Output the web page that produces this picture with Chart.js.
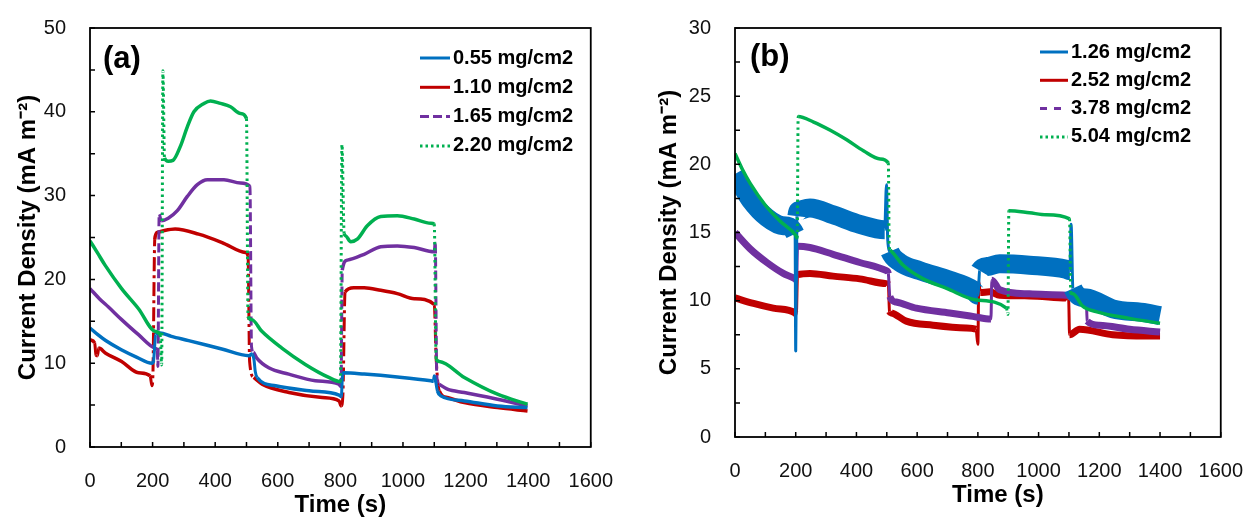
<!DOCTYPE html>
<html>
<head>
<meta charset="utf-8">
<script src="https://cdn.jsdelivr.net/npm/chart.js@4.4.1/dist/chart.umd.min.js"></script>
<style>
  body { margin: 0; background: #fff; overflow: hidden; }
  #wrap { position: relative; width: 1246px; height: 520px; overflow: hidden; }
  #chartA { position: absolute; left: 0; top: 0; }
  #chartB { position: absolute; left: 620px; top: 0; }
</style>
</head>
<body>
<div id="wrap">
  <canvas id="chartA" width="627" height="520"></canvas>
  <canvas id="chartB" width="637" height="520"></canvas>
</div>
<script>
// Panel (a): time (s) vs current density, four loadings
const labelsA = ['0.55 mg/cm2', '1.10 mg/cm2', '1.65 mg/cm2', '2.20 mg/cm2'];
const a055 = [[0,14.2],[25,13.4],[50,12.7],[100,11.6],[150,10.7],[198,10.0],[203,10.3],[210,13.4],[224,13.6],[260,13.2],[315,12.7],[421,11.7],[508,10.9],[518,11.1],[524,10.4],[528,9.0],[534,8.3],[593,7.3],[700,6.7],[796,6.2],[803,6.0],[807,8.6],[812,8.85],[876,8.7],[982,8.35],[1089,7.9],[1097,7.85],[1100,8.5],[1110,6.7],[1121,6.1],[1196,5.5],[1302,4.9],[1398,4.7]];
const a110 = [[0,12.8],[15,12.4],[19,11.0],[24,10.9],[28,11.8],[50,11.2],[101,10.2],[155,8.85],[192,8.5],[198,7.3],[201,8.6],[207,24.8],[215,25.6],[235,25.8],[272,26.0],[347,25.4],[422,24.4],[497,23.2],[505,22.8],[510,10.2],[523,8.3],[550,7.5],[636,6.5],[742,5.9],[796,5.5],[803,4.9],[808,6.2],[815,18.5],[843,19.0],[876,19.0],[929,18.7],[982,18.3],[1036,17.7],[1100,17.0],[1106,10.6],[1116,6.7],[1142,5.9],[1196,5.3],[1302,4.7],[1398,4.3]];
const a165 = [[0,18.9],[30,17.7],[59,16.7],[101,15.2],[155,13.4],[208,11.8],[215,11.5],[217,9.6],[221,27.8],[228,27.0],[250,27.3],[279,28.2],[311,29.9],[343,31.3],[375,31.9],[428,31.9],[481,31.5],[511,31.1],[516,12.0],[522,11.3],[533,10.6],[571,9.45],[635,8.7],[720,7.9],[795,7.5],[802,7.2],[806,21.1],[822,22.3],[876,23.0],[929,23.9],[982,24.0],[1036,23.8],[1100,23.3],[1103,24.5],[1108,8.5],[1115,7.5],[1142,6.9],[1196,6.5],[1302,5.7],[1398,4.9]];
const a220 = [[0,24.6],[25,23.1],[48,21.7],[101,18.9],[155,16.5],[208,13.8],[224,13.4],[229,9.8],[233,44.9],[238,34.5],[250,34.1],[265,34.2],[289,35.9],[311,38.2],[332,40.0],[364,41.0],[385,41.3],[417,41.0],[449,40.6],[481,39.8],[500,39.2],[505,15.6],[517,15.2],[549,13.8],[613,11.8],[688,9.85],[763,8.3],[800,7.8],[805,36.1],[812,25.5],[817,25.2],[833,24.5],[854,24.8],[886,26.4],[929,27.5],[982,27.6],[1036,27.2],[1089,26.7],[1100,26.6],[1106,10.5],[1116,10.2],[1196,8.3],[1302,6.3],[1398,5.1]];

// Panel (b)
const labelsB = ['1.26 mg/cm2', '2.52 mg/cm2', '3.78 mg/cm2', '5.04 mg/cm2'];
const b126 = [[0,19.3],[25,18.3],[50,17.4],[105,16.1],[159,15.5],[198,14.9],[200,6.3],[204,16.2],[210,16.6],[247,16.8],[323,16.3],[411,15.6],[493,15.2],[499,18.5],[503,14.5],[510,13.6],[543,12.8],[608,12.2],[707,11.5],[783,10.8],[800,10.4],[806,12.2],[830,12.5],[872,12.7],[970,12.6],[1091,12.3],[1103,12.2],[1107,15.6],[1113,10.9],[1157,10.2],[1244,9.4],[1354,9.1],[1400,8.9]];
const b252 = [[0,10.2],[61,9.8],[126,9.45],[198,9.1],[202,9.0],[206,11.9],[247,12.0],[323,11.8],[411,11.6],[499,11.25],[505,11.2],[509,9.2],[515,9.1],[564,8.5],[652,8.2],[761,8.0],[794,7.9],[800,6.8],[803,11.4],[808,10.6],[839,10.65],[872,10.4],[970,10.35],[1091,10.2],[1099,10.1],[1102,7.5],[1135,7.9],[1244,7.5],[1354,7.4],[1400,7.4]];
const b378 = [[0,15.0],[50,13.8],[105,12.8],[159,12.0],[198,11.6],[203,11.5],[206,14.0],[247,13.9],[323,13.4],[411,12.8],[499,12.2],[505,12.0],[510,10.3],[531,9.9],[597,9.45],[707,9.1],[783,8.85],[843,8.65],[846,11.5],[872,10.8],[970,10.5],[1091,10.4],[1135,10.3],[1157,10.1],[1160,8.5],[1200,8.2],[1300,7.9],[1400,7.7]];
const b504 = [[0,20.8],[25,19.6],[50,18.6],[100,17.0],[150,15.8],[200,14.8],[205,14.6],[208,23.5],[259,23.1],[314,22.5],[368,21.8],[423,21.0],[478,20.4],[505,20.1],[508,14.0],[511,13.7],[554,12.6],[620,11.6],[697,10.9],[795,10.05],[894,9.45],[899,9.0],[902,16.6],[970,16.45],[1025,16.3],[1102,16.0],[1106,10.6],[1113,10.5],[1145,9.6],[1189,9.2],[1299,8.7],[1400,8.35]];

const FONT = '"Liberation Sans", Arial, sans-serif';
Chart.defaults.font.family = FONT;

const BLUE = '#0070C0';
const RED = '#C00000';
const PURPLE = '#7030A0';
const GREEN = '#00B050';

function isJump(ctx) {
  return Math.abs(ctx.p1.y - ctx.p0.y) > 3 * Math.abs(ctx.p1.x - ctx.p0.x);
}

function makeSeries(label, pairs, style) {
  return {
    label: label,
    data: pairs.map(([x, y]) => ({ x, y })),
    borderColor: style.color,
    borderWidth: style.width,
    borderJoinStyle: 'round',
    borderCapStyle: 'butt',
    pointRadius: 0,
    cubicInterpolationMode: 'monotone',
    order: style.order,
    legendDash: style.legendDash,
    segment: {
      borderDash: (ctx) => (isJump(ctx) ? style.jumpDash : undefined),
      borderWidth: (ctx) => (isJump(ctx) ? style.jumpWidth : undefined)
    }
  };
}

// box round the plot area and short inward tick marks
const frameTicks = {
  id: 'frameTicks',
  afterDatasetsDraw(chart) {
    const { ctx, chartArea: a, scales } = chart;
    ctx.save();
    ctx.strokeStyle = '#000';
    ctx.lineWidth = 1.5;
    ctx.beginPath();
    scales.x.ticks.forEach((t) => {
      const px = scales.x.getPixelForValue(t.value);
      ctx.moveTo(px, a.bottom);
      ctx.lineTo(px, a.bottom - 5);
    });
    scales.y.ticks.forEach((t) => {
      const py = scales.y.getPixelForValue(t.value);
      ctx.moveTo(a.left, py);
      ctx.lineTo(a.left + 5, py);
    });
    ctx.stroke();
    ctx.lineWidth = 1.8;
    ctx.strokeRect(a.left, a.top, a.right - a.left, a.bottom - a.top);
    ctx.restore();
  }
};

const panelLegend = {
  id: 'panelLegend',
  afterDraw(chart, args, opts) {
    const ctx = chart.ctx;
    ctx.save();
    ctx.fillStyle = '#000';
    ctx.textBaseline = 'middle';
    ctx.font = 'bold 31px ' + FONT;
    ctx.fillText(opts.tag, opts.tagX, opts.tagY);
    ctx.font = 'bold 20px ' + FONT;
    chart.data.datasets.forEach((ds, i) => {
      const y = opts.top + i * opts.gap;
      ctx.strokeStyle = ds.borderColor;
      ctx.lineWidth = 3;
      ctx.setLineDash(ds.legendDash);
      ctx.beginPath();
      ctx.moveTo(opts.lineX, y);
      ctx.lineTo(opts.lineX + opts.lineLen, y);
      ctx.stroke();
      ctx.setLineDash([]);
      ctx.fillText(ds.label, opts.lineX + opts.lineLen + 3, y);
    });
    ctx.restore();
  }
};

function axisOptions(cfg) {
  const tickFont = { size: 20 };
  return {
    x: {
      type: 'linear',
      min: 0,
      max: 1600,
      grid: { display: false },
      border: { display: false },
      afterFit: (s) => { s.height = cfg.xHeight; },
      ticks: {
        stepSize: 100,
        autoSkip: false,
        maxRotation: 0,
        padding: 14,
        color: '#111',
        font: tickFont,
        callback: (v) => (v % 200 === 0 ? v : '')
      },
      title: {
        display: true,
        text: cfg.xTitle,
        color: '#000',
        font: { size: 24, weight: 'bold' },
        padding: { top: 0, bottom: cfg.xTitlePad }
      }
    },
    y: {
      min: 0,
      max: cfg.yMax,
      grid: { display: false },
      border: { display: false },
      afterFit: (s) => { s.width = cfg.yWidth; },
      ticks: {
        stepSize: cfg.yMinor,
        autoSkip: false,
        padding: 16,
        color: '#111',
        font: tickFont,
        callback: (v) => (v % cfg.yMajor === 0 ? v : '')
      },
      title: {
        display: true,
        text: 'Current Density (mA m\u207B\u00B2)',
        color: '#000',
        font: { size: 24, weight: 'bold' },
        padding: { top: cfg.yTitlePad, bottom: 0 }
      }
    }
  };
}

function buildChart(canvasId, datasets, cfg, legendOpts) {
  return new Chart(document.getElementById(canvasId), {
    type: 'line',
    data: { datasets: datasets },
    options: {
      responsive: false,
      animation: false,
      layout: { padding: { left: 0, top: cfg.padTop, right: cfg.padRight, bottom: 0 } },
      scales: axisOptions(cfg),
      plugins: {
        legend: { display: false },
        tooltip: { enabled: false },
        panelLegend: legendOpts
      }
    },
    plugins: [frameTicks, panelLegend]
  });
}

function init() {
  const dsA = [
    makeSeries(labelsA[0], a055, { color: BLUE, width: 3.5, order: 1, legendDash: [], jumpDash: [], jumpWidth: 3 }),
    makeSeries(labelsA[1], a110, { color: RED, width: 3.5, order: 3, legendDash: [], jumpDash: [14, 4, 3, 4], jumpWidth: 3 }),
    makeSeries(labelsA[2], a165, { color: PURPLE, width: 3.5, order: 2, legendDash: [9, 4], jumpDash: [9, 4], jumpWidth: 3 }),
    makeSeries(labelsA[3], a220, { color: GREEN, width: 3.5, order: 0, legendDash: [2.5, 3], jumpDash: [2.5, 3.5], jumpWidth: 3 })
  ];
  const dsB = [
    makeSeries(labelsB[0], b126, { color: BLUE, width: 19, order: 1, legendDash: [], jumpDash: [], jumpWidth: 3 }),
    makeSeries(labelsB[1], b252, { color: RED, width: 7, order: 3, legendDash: [], jumpDash: [], jumpWidth: 3 }),
    makeSeries(labelsB[2], b378, { color: PURPLE, width: 7, order: 2, legendDash: [7, 7], jumpDash: [], jumpWidth: 3 }),
    makeSeries(labelsB[3], b504, { color: GREEN, width: 3.5, order: 0, legendDash: [2.5, 3], jumpDash: [2.5, 3.5], jumpWidth: 3 })
  ];

  buildChart('chartA', dsA,
    { yMax: 50, yMinor: 5, yMajor: 10, xTitle: 'Time (s)', xHeight: 73, yWidth: 90, padTop: 24, padRight: 10, xTitlePad: 0, yTitlePad: 14 },
    { tag: '(a)', tagX: 103, tagY: 59, lineX: 420, lineLen: 30, top: 58, gap: 29.3 });

  buildChart('chartB', dsB,
    { yMax: 30, yMinor: 2.5, yMajor: 5, xTitle: '      Time (s)', xHeight: 83, yWidth: 115, padTop: 23, padRight: 10, xTitlePad: 10, yTitlePad: 35 },
    { tag: '(b)', tagX: 130, tagY: 57, lineX: 420, lineLen: 28, top: 52, gap: 28.3 });
}

document.addEventListener('DOMContentLoaded', init);
</script>
</body>
</html>
